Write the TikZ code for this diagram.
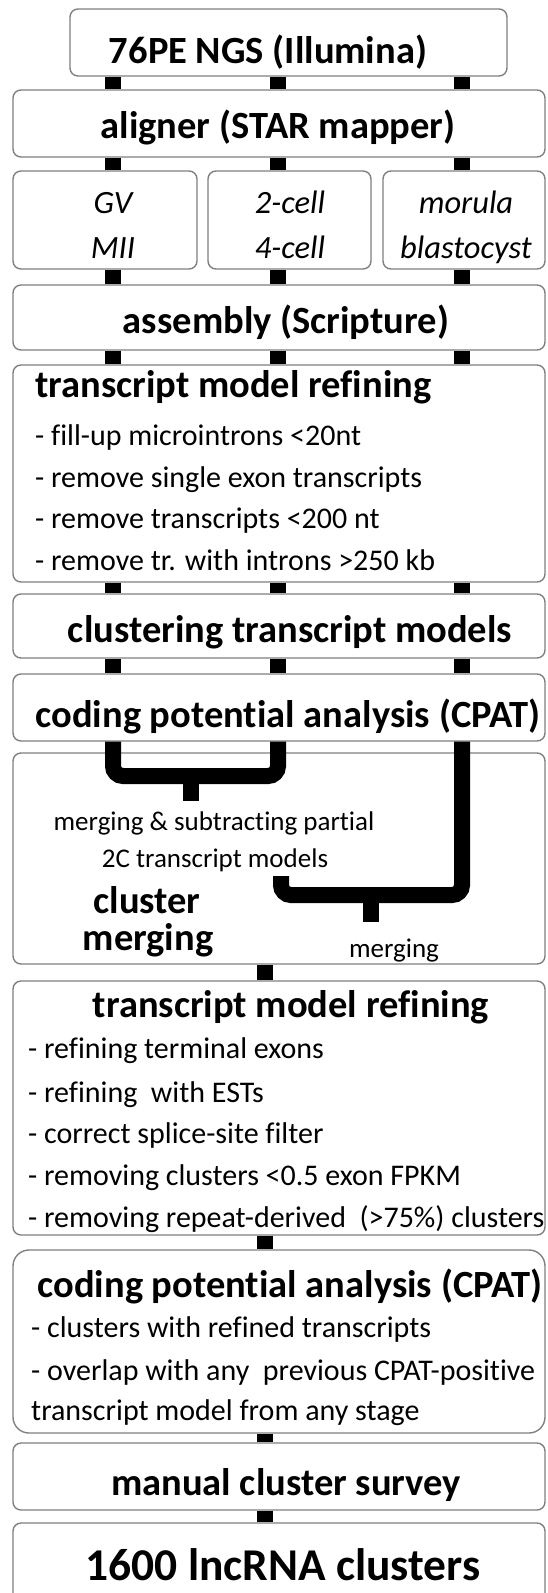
\documentclass[tikz,border=0pt]{standalone}
\usepackage{fontspec}
\setmainfont{Carlito}[Ligatures={TeX,NoCommon}]
\begin{document}
\begin{tikzpicture}[x=1pt, y=-1pt,
    box/.style={draw=gray, line width=1.4pt, rounded corners=8pt, inner sep=0pt},
    head/.style={font=\fontsize{38.5}{42}\selectfont\bfseries, anchor=base, inner sep=0pt},
    item/.style={font=\fontsize{30}{34}\selectfont, anchor=base west, inner sep=0pt},
    stage/.style={font=\fontsize{32.5}{36}\selectfont\itshape, anchor=base, inner sep=0pt},
    note/.style={font=\fontsize{27}{30}\selectfont, anchor=base, inner sep=0pt},
    link/.style={line width=16pt, black},
    bracket/.style={line width=16pt, black, rounded corners=10pt}]
    \clip (0,0) rectangle (547,1593);

    % lanes for the three sample groups
    \coordinate (lane1) at (113,0);
    \coordinate (lane2) at (278,0);
    \coordinate (lane3) at (462,0);
    \coordinate (mid) at (265,0);

    % Draw boxes
    \foreach \name/\xa/\ya/\xb/\yb in {ngs/70/9/507/76, align/13/90/545/157,
        gv/13/171/197/269, twocell/208/171/371/269, morula/383/171/545/269,
        assem/13/285/545/350, refineA/13/365/545/582, clust/13/594/545/658,
        cpatA/13/674/545/741, merge/13/753/545/964, refineB/13/981/545/1235,
        survey/13/1443/545/1510, final/13/1523/545/1620} {
        \node[box, minimum width={(\xb-\xa)*1pt}, minimum height={(\yb-\ya)*1pt}]
            (\name) at ({(\xa+\xb)/2},{(\ya+\yb)/2}) {};
    }
    \node[box, rounded corners=16pt, minimum width=532pt, minimum height=183pt]
        (cpatB) at (279,1341.5) {};

    % Draw connectors
    \foreach \top/\bot in {ngs/align, align/gv, gv/assem, assem/refineA,
        refineA/clust, clust/cpatA} {
        \foreach \lane in {lane1,lane2,lane3}
            \draw[link] (\top.south -| \lane) -- (\bot.north -| \lane);
    }
    \foreach \top/\bot in {merge/refineB, refineB/cpatB, cpatB/survey, survey/final}
        \draw[link] (\top.south -| mid) -- (\bot.north -| mid);

    % cluster merging brackets
    \coordinate (forkA) at (191,776);
    \coordinate (stubA) at (191,801);
    \coordinate (forkB) at (371,895);
    \coordinate (hookB) at (281,876);
    \coordinate (stubB) at (371,922);
    \draw[bracket] (cpatA.south -| lane1) |- (forkA) -| (cpatA.south -| lane2);
    \draw[link] (forkA) -- (stubA);
    \draw[bracket] (cpatA.south -| lane3) |- (forkB) -| (hookB);
    \draw[link] (forkB) -- (stubB);

    % Texts
    \node[head] (ngsT) at (268,63) {76PE NGS (Illumina)};
    \node[head] (alignT) at (278,138) {aligner (STAR mapper)};
    \node[stage] (gvT) at (113,213) {GV};
    \node[stage] (miiT) at (113,258) {MII};
    \node[stage] (twoT) at (290,213) {2-cell};
    \node[stage] (fourT) at (290,258) {4-cell};
    \node[stage] (morT) at (466,213) {morula};
    \node[stage] (blaT) at (466,258) {blastocyst};
    \node[head] (assemT) at (286,333) {assembly (Scripture)};

    \node[head, anchor=base west] (refineAT) at (35,397) {transcript model refining};
    \node[item] (a1) at (35,445) {- fill-up microintrons <20nt};
    \node[item] (a2) at (35,487) {- remove single exon transcripts};
    \node[item] (a3) at (35,528) {- remove transcripts <200 nt};
    \node[item] (a4) at (35,570) {- remove tr. with introns >250 kb};

    \node[head] (clustT) at (290,642) {clustering transcript models};
    \node[head] (cpatAT) at (288,727) {coding potential analysis (CPAT)};

    \node[note] (m1) at (214,830) {merging \& subtracting partial};
    \node[note] (m2) at (215,867) {2C transcript models};
    \node[head] (mergeT1) at (147,913) {cluster};
    \node[head] (mergeT2) at (148,950) {merging};
    \node[note] (m3) at (394,957) {merging};

    \node[head] (refineBT) at (291,1017) {transcript model refining};
    \node[item] (b1) at (28,1058) {- refining terminal exons};
    \node[item] (b2) at (28,1102) {- refining\ \ with ESTs};
    \node[item] (b3) at (28,1143) {- correct splice-site filter};
    \node[item] (b4) at (28,1185) {- removing clusters <0.5 exon FPKM};
    \node[item] (b5) at (28,1227) {- removing repeat-derived\ \ (>75\%) clusters};

    \node[head] (cpatBT) at (290,1297) {coding potential analysis (CPAT)};
    \node[item] (c1) at (31,1337) {- clusters with refined transcripts};
    \node[item] (c2) at (31,1380) {- overlap with any\ \ previous CPAT-positive};
    \node[item] (c3) at (31,1420) {transcript model from any stage};

    \node[head] (surveyT) at (286,1495) {manual cluster survey};
    \node[head, font=\fontsize{45.5}{50}\selectfont\bfseries] (finalT) at (283,1580) {1600 lncRNA clusters};
\end{tikzpicture}
\end{document}
